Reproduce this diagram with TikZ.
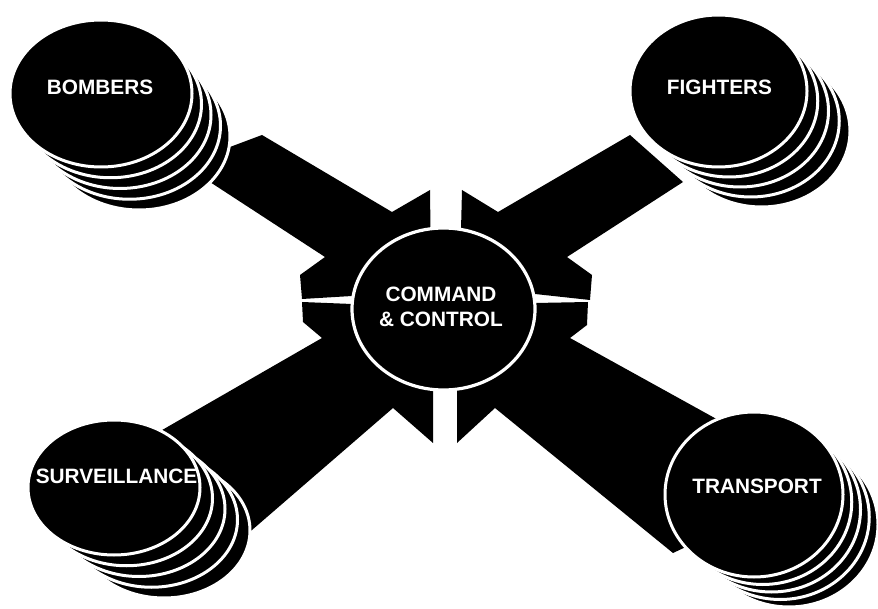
\documentclass[tikz,border=0pt]{standalone}
\usepackage{fontspec}
\setmainfont{Liberation Sans}[BoldFont={Liberation Sans Bold}]
\usetikzlibrary{positioning}
\tikzset{myarm/.style={fill=black}}
\tikzset{mydisc/.style={fill=black, draw=white, line width=1.5pt}}
\tikzset{myhub/.style={fill=black, draw=white, line width=1.6pt}}
\tikzset{mylabel/.style={text=white, inner sep=0pt, align=center,
		font=\bfseries\fontsize{10.4}{12.5}\selectfont}}

\begin{document}
\begin{tikzpicture}[x=0.5pt, y=-0.5pt]
			\useasboundingbox (0,0) rectangle (878,609);
			% four arms pointing at the hub
			\fill[myarm] (190,169) -- (230,147) -- (262,135) -- (392,212) -- (430,190) -- (431,270) -- (400,293) -- (352,296) -- (302,299) -- (300,275) -- (325,257) -- cycle;
			\fill[myarm] (462,190) -- (498,212) -- (630,135) -- (683,182) -- (567,257) -- (592,275) -- (590,300) -- (535,294) -- (490,289) -- (460,270) -- cycle;
			\fill[myarm] (302,302) -- (352,304) -- (400,307) -- (433,330) -- (433,443) -- (393,408) -- (200,575) -- (150,437) -- (322,338) -- (303,322) -- cycle;
			\fill[myarm] (490,304) -- (535,303) -- (588,302) -- (587,325) -- (570,338) -- (740,432) -- (690,545) -- (673,553) -- (495,408) -- (457,443) -- (457,330) -- cycle;
			% hub
			\draw[myhub] (443.5,309) ellipse [x radius=91.5, y radius=81];
			\node[mylabel] (cc) at (441,307) {COMMAND\\\& CONTROL};
			% stacks of discs, back to front
			\foreach \cx/\cy/\rx/\ry/\dx/\dy in {101/93.5/91/73.5/9.5/10.75, 718.5/91/88.5/76/10.75/10, 114/487.5/86/67.5/12.5/10.75, 754/494.5/89/82.5/8.75/7.5}{
				\foreach \k in {4,3,2,1,0}{
					\draw[mydisc] ({\cx+\k*\dx},{\cy+\k*\dy}) ellipse [x radius=\rx, y radius=\ry];
				}
			}
			\node[mylabel, anchor=base] (bombers) at (100,95) {BOMBERS};
			\node[mylabel, anchor=base] (fighters) at (719.5,95) {FIGHTERS};
			\node[mylabel, anchor=base] (surveillance) at (116.5,483) {SURVEILLANCE};
			\node[mylabel, anchor=base] (transport) at (757,493) {TRANSPORT};
\end{tikzpicture}
\end{document}
